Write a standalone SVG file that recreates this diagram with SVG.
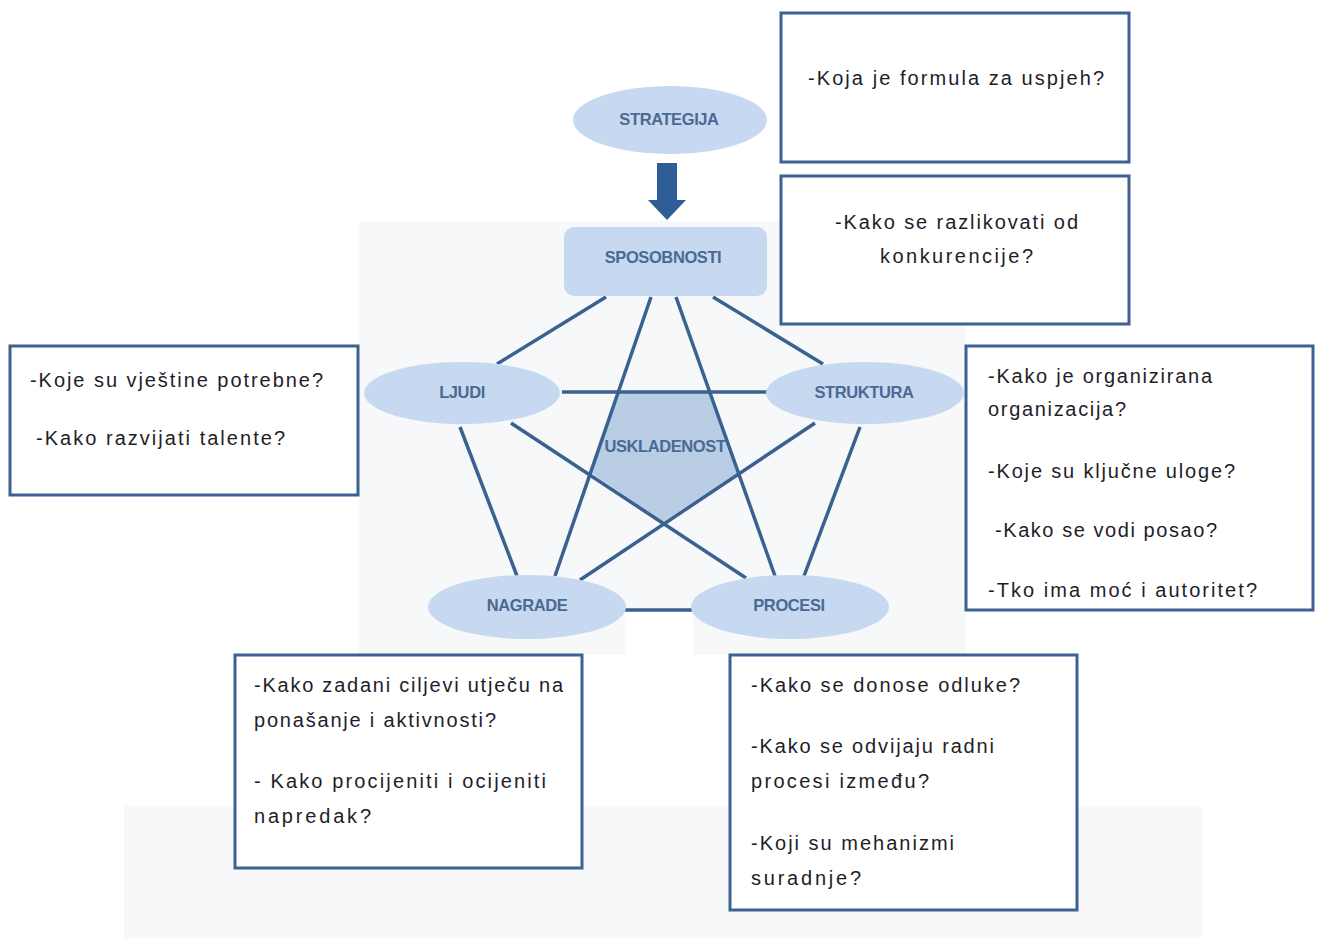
<svg xmlns="http://www.w3.org/2000/svg" width="1317" height="938" viewBox="0 0 1317 938">
<style>
.bg{fill:#f7f8fa}
.node{fill:#c6d9f0}
.lbl{font-family:"Liberation Sans",Arial,sans-serif;font-weight:bold;font-size:16.5px;fill:#4a6a94;text-anchor:middle;dominant-baseline:central;letter-spacing:-0.4px}
.conn line{stroke:#3a6190;stroke-width:3.5;stroke-linecap:butt}
.box rect{fill:#ffffff;stroke:#3d6190;stroke-width:3}
.box text{font-family:"Liberation Sans",Arial,sans-serif;font-size:20px;fill:#1e1e28}
</style>
<rect width="1317" height="938" fill="#ffffff"/>
<g id="background">
<rect class="bg" x="359" y="221" width="607" height="390"/>
<rect class="bg" x="359" y="611" width="266" height="44"/>
<rect class="bg" x="693" y="611" width="273" height="44"/>
<rect class="bg" x="124" y="806" width="1078" height="132"/>
</g>
<g id="usklađenost">
<polygon points="618,392 710,392 738,473 663,522 590,472" fill="#b9cde5"/>
</g>
<g class="conn" id="connectors">
<line x1="606" y1="297" x2="497" y2="364"/>
<line x1="651" y1="297" x2="555" y2="576"/>
<line x1="676" y1="297" x2="775" y2="576"/>
<line x1="713" y1="297" x2="823" y2="364"/>
<line x1="562" y1="392" x2="767" y2="392"/>
<line x1="511" y1="423" x2="746" y2="578"/>
<line x1="460" y1="427" x2="517" y2="576"/>
<line x1="815" y1="423" x2="580" y2="580"/>
<line x1="860" y1="427" x2="804" y2="576"/>
<line x1="625" y1="610" x2="693" y2="610"/>
<polygon points="657,163 677,163 677,200 686,200 667,220 648,200 657,200" fill="#2f5d95"/>
</g>
<text class="lbl" x="665" y="446">USKLADENOST</text>
<g id="strategija">
<ellipse class="node" cx="670" cy="120" rx="97" ry="34"/>
<text class="lbl" x="669" y="119">STRATEGIJA</text>
</g>
<g id="sposobnosti">
<rect class="node" x="564" y="227" width="203" height="69" rx="10"/>
<text class="lbl" x="663" y="257">SPOSOBNOSTI</text>
</g>
<g id="ljudi">
<ellipse class="node" cx="462" cy="393" rx="98" ry="31"/>
<text class="lbl" x="462" y="392">LJUDI</text>
</g>
<g id="struktura">
<ellipse class="node" cx="865" cy="393" rx="99" ry="31"/>
<text class="lbl" x="864" y="392">STRUKTURA</text>
</g>
<g id="nagrade">
<ellipse class="node" cx="527" cy="607" rx="99" ry="32"/>
<text class="lbl" x="527" y="605">NAGRADE</text>
</g>
<g id="procesi">
<ellipse class="node" cx="790" cy="607" rx="99" ry="32"/>
<text class="lbl" x="789" y="605">PROCESI</text>
</g>
<g class="box" id="box-formula">
<rect x="781" y="13" width="348" height="149"/>
<text x="808" y="85" textLength="296" lengthAdjust="spacing">-Koja je formula za uspjeh?</text>
</g>
<g class="box" id="box-konkurencija">
<rect x="781" y="176" width="348" height="148"/>
<text x="835" y="229" textLength="243" lengthAdjust="spacing">-Kako se  razlikovati od</text>
<text x="880" y="263" textLength="153" lengthAdjust="spacing">konkurencije?</text>
</g>
<g class="box" id="box-ljudi">
<rect x="10" y="346" width="348" height="149"/>
<text x="30" y="387" textLength="293" lengthAdjust="spacing">-Koje su vještine potrebne?</text>
<text x="36" y="445" textLength="249" lengthAdjust="spacing">-Kako  razvijati talente?</text>
</g>
<g class="box" id="box-struktura">
<rect x="966" y="346" width="347" height="264"/>
<text x="988" y="383" textLength="224" lengthAdjust="spacing">-Kako je organizirana</text>
<text x="988" y="416" textLength="138" lengthAdjust="spacing">organizacija?</text>
<text x="988" y="478" textLength="247" lengthAdjust="spacing">-Koje su ključne uloge?</text>
<text x="995" y="537" textLength="222" lengthAdjust="spacing">-Kako se vodi posao?</text>
<text x="988" y="597" textLength="269" lengthAdjust="spacing">-Tko ima moć i autoritet?</text>
</g>
<g class="box" id="box-nagrade">
<rect x="235" y="655" width="347" height="213"/>
<text x="254" y="692" textLength="309" lengthAdjust="spacing">-Kako zadani ciljevi utječu na</text>
<text x="254" y="727" textLength="242" lengthAdjust="spacing">ponašanje i aktivnosti?</text>
<text x="254" y="788" textLength="292" lengthAdjust="spacing">- Kako procijeniti  i ocijeniti</text>
<text x="254" y="823" textLength="117" lengthAdjust="spacing">napredak?</text>
</g>
<g class="box" id="box-procesi">
<rect x="730" y="655" width="347" height="255"/>
<text x="751" y="692" textLength="269" lengthAdjust="spacing">-Kako se donose odluke?</text>
<text x="751" y="753" textLength="243" lengthAdjust="spacing">-Kako se odvijaju radni</text>
<text x="751" y="788" textLength="178" lengthAdjust="spacing">procesi između?</text>
<text x="751" y="850" textLength="203" lengthAdjust="spacing">-Koji su mehanizmi</text>
<text x="751" y="885" textLength="110" lengthAdjust="spacing">suradnje?</text>
</g>
</svg>
